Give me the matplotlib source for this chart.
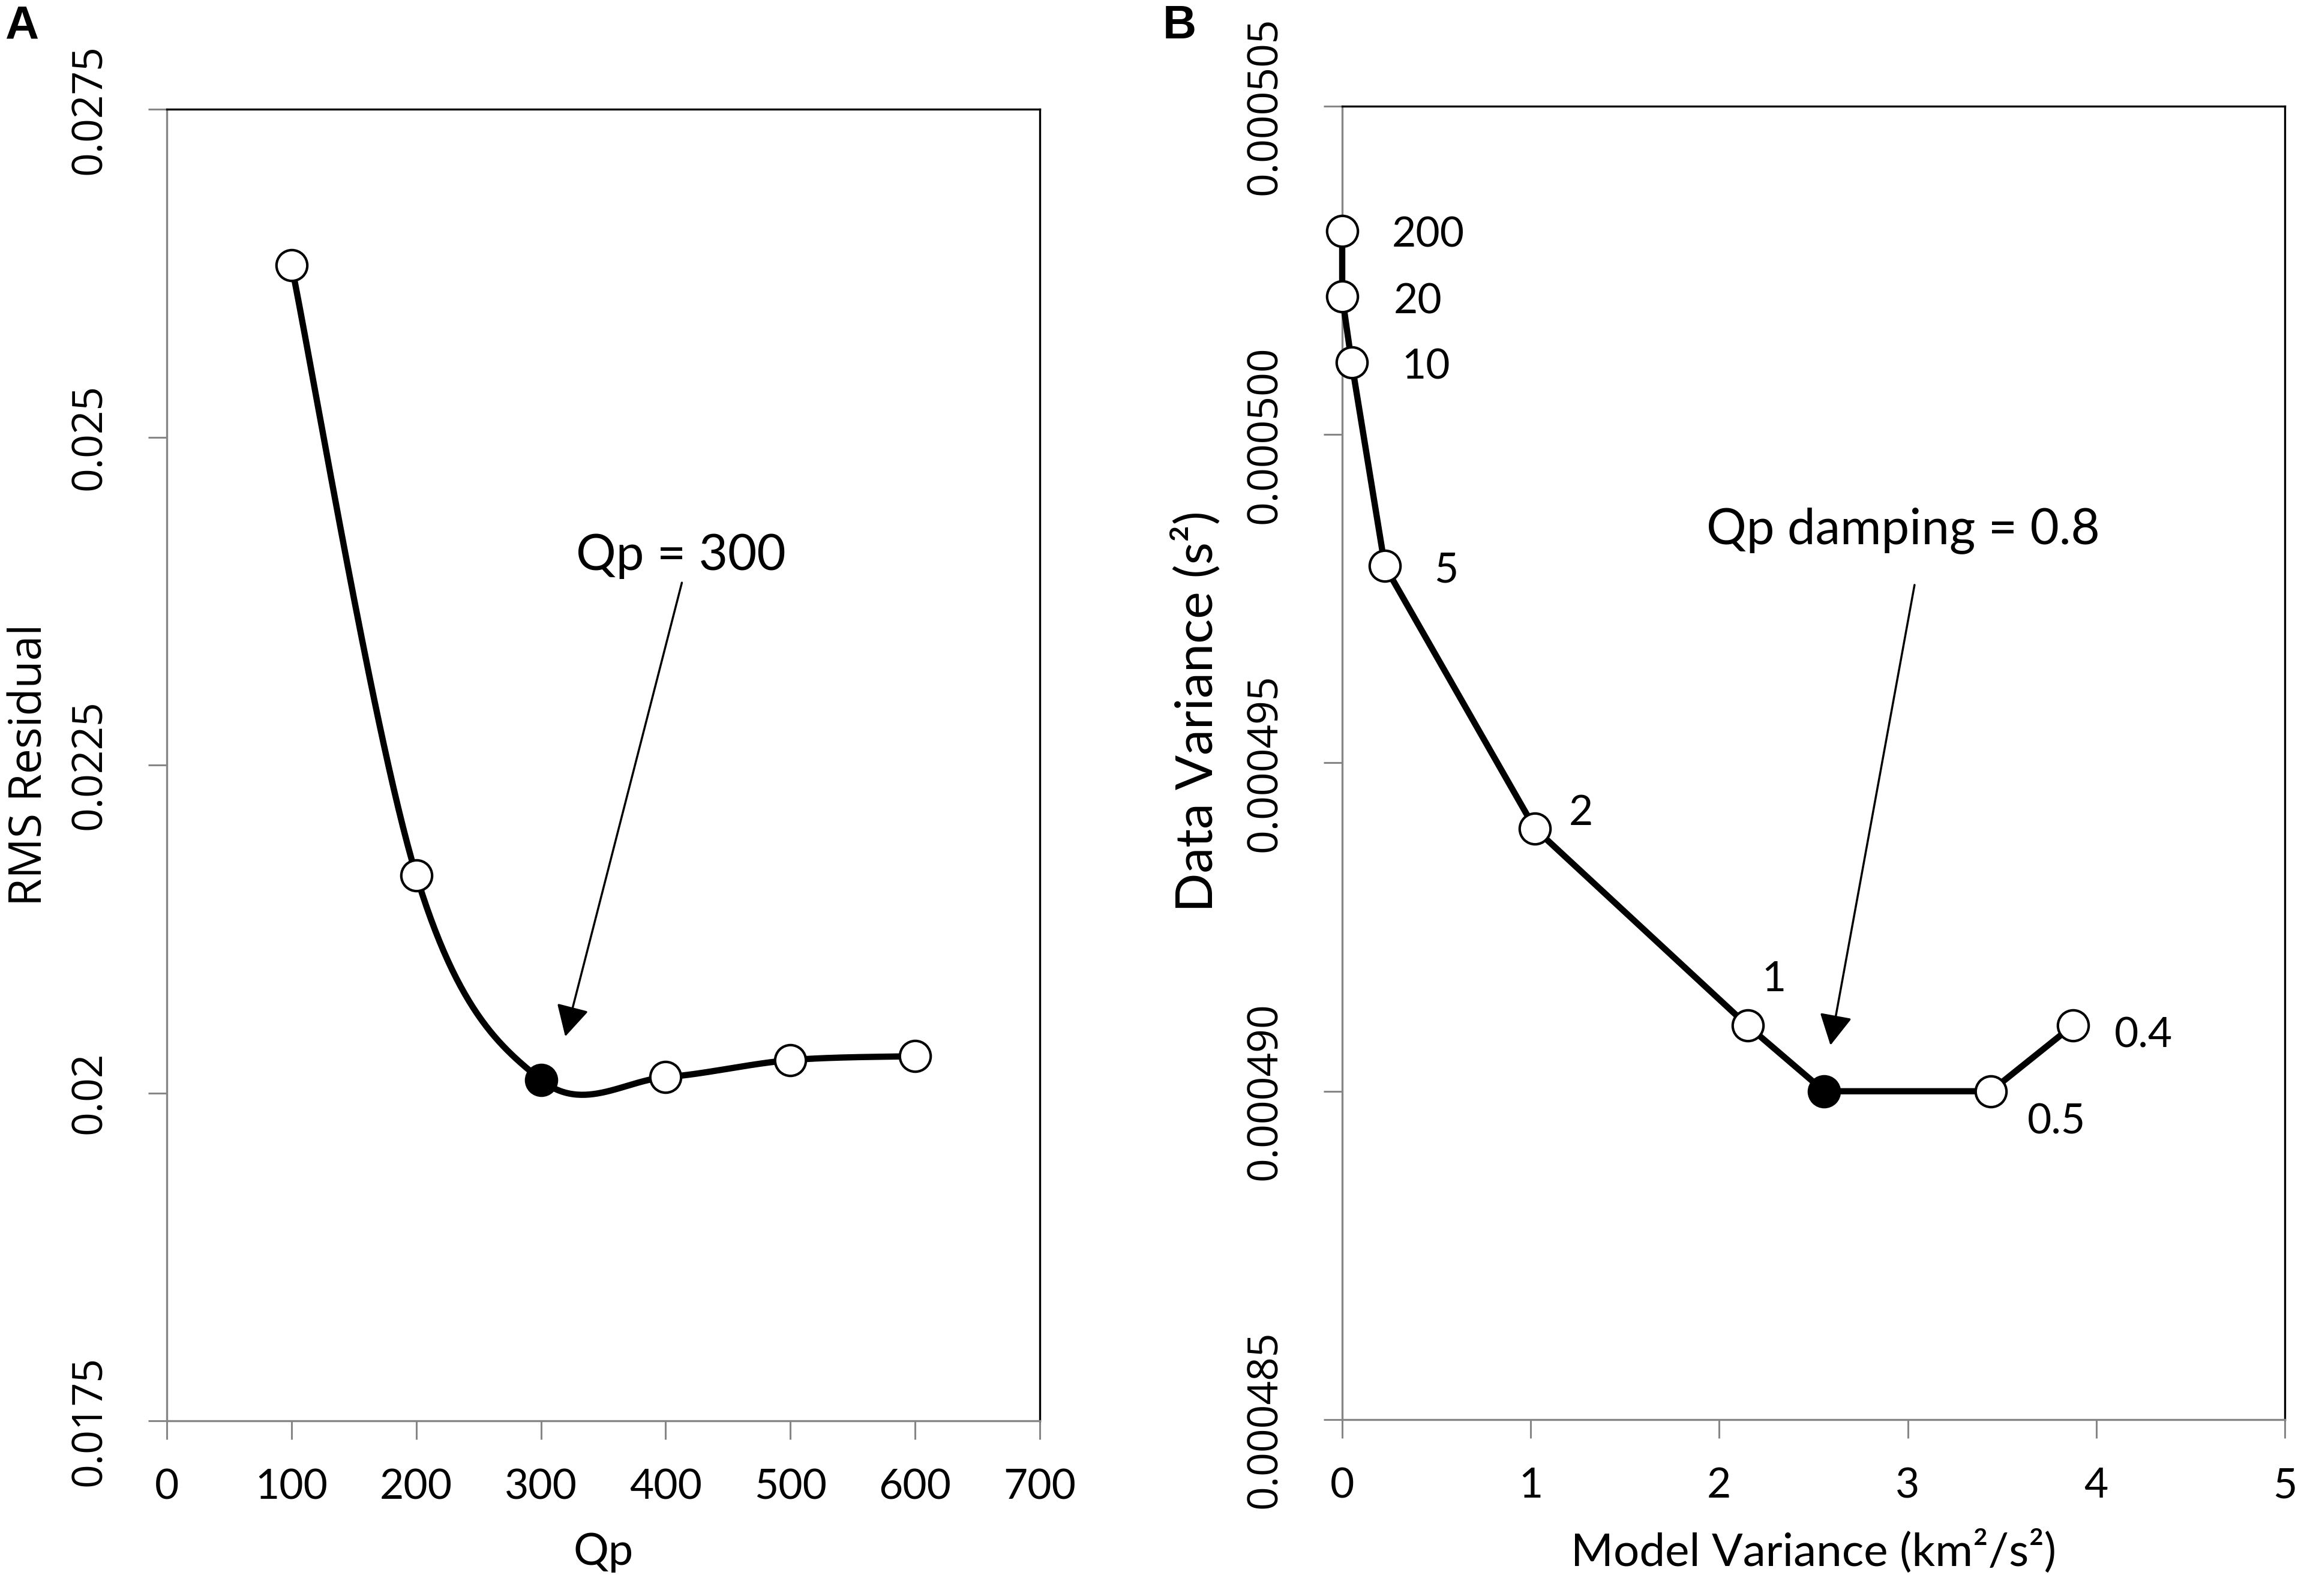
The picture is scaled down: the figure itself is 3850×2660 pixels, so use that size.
import numpy as np
import matplotlib
matplotlib.use("Agg")
import matplotlib.pyplot as plt

# ---------------- data ----------------
# Panel A
qp_values = [100, 200, 300, 400, 500, 600]
rms_residual = [0.02631, 0.02166, 0.02010, 0.02012, 0.02025, 0.02028]
best_qp_index = 2
a_xticks = [0, 100, 200, 300, 400, 500, 600, 700]
a_yticks = [0.0175, 0.02, 0.0225, 0.025, 0.0275]
a_yticklabels = ["0.0175", "0.02", "0.0225", "0.025", "0.0275"]
a_annot_text = "Qp = 300"
a_annot_text_xy = (412, 0.02409)
a_arrow_tail = (413, 0.02389)
a_arrow_tip = (319.5, 0.02043)

# Panel B
model_variance = [0.0, 0.0, 0.05, 0.226, 1.022, 2.15, 2.557, 3.44, 3.875]
data_variance = [0.0005031, 0.0005021, 0.0005011, 0.000498, 0.000494,
                 0.000491, 0.00049, 0.00049, 0.000491]
damping_labels = ["200", "20", "10", "5", "2", "1", "", "0.5", "0.4"]
best_damp_index = 6
b_xticks = [0, 1, 2, 3, 4, 5]
b_yticks = [0.000485, 0.00049, 0.000495, 0.0005, 0.000505]
b_yticklabels = ["0.000485", "0.000490", "0.000495", "0.000500", "0.000505"]
b_annot_text = "Qp damping = 0.8"
b_annot_text_xy = (2.976, 0.00049854)
b_arrow_tail = (3.036, 0.00049771)
b_arrow_tip = (2.59, 0.0004907)

# label offsets (points) for the damping labels
label_offsets = [(103, -5), (91, -6), (89, -6), (74, -6), (55, 18),
                 (32, 55), (0, 0), (79, -37), (85, -12)]

# ---------------- style ----------------
GRAY = "#868686"
TICK_FONT = "Lato"
AXIS_FONT = "Open Sans"
plt.rcParams["font.family"] = ["Lato", "DejaVu Sans"]

fig = plt.figure(figsize=(38.5, 26.6), dpi=100)
axA = fig.add_axes([0.07221, 0.10977, 0.37792, 0.82180])
axB = fig.add_axes([0.58104, 0.11053, 0.40805, 0.82293])


def excel_smooth(xs, ys, n=60):
    pts = np.column_stack([xs, ys]).astype(float)
    m = len(pts)
    out = [pts[0]]
    t = np.linspace(0, 1, n)[1:, None]
    for i in range(m - 1):
        p0 = pts[i - 1] if i > 0 else pts[i]
        p1 = pts[i]
        p2 = pts[i + 1]
        p3 = pts[i + 2] if i + 2 < m else pts[i + 1]
        c1 = p1 + (p2 - p0) / 6.0
        c2 = p2 - (p3 - p1) / 6.0
        seg = ((1 - t) ** 3) * p1 + 3 * ((1 - t) ** 2) * t * c1 + \
            3 * (1 - t) * t ** 2 * c2 + t ** 3 * p2
        out.extend(seg)
    out = np.array(out)
    return out[:, 0], out[:, 1]


def style_axes(ax, xticks, yticks, yticklabels, xlim, ylim):
    ax.set_xlim(*xlim)
    ax.set_ylim(*ylim)
    ax.set_xticks(xticks)
    ax.set_xticklabels([str(v) for v in xticks], fontfamily=TICK_FONT, fontsize=50)
    ax.set_yticks(yticks)
    ax.set_yticklabels(yticklabels, fontfamily=AXIS_FONT, fontsize=50,
                       rotation=90, va="center", ha="right")
    for side in ["top", "right"]:
        ax.spines[side].set_color("black")
        ax.spines[side].set_linewidth(2.4)
    for side in ["left", "bottom"]:
        ax.spines[side].set_color(GRAY)
        ax.spines[side].set_linewidth(2.4)
    ax.tick_params(axis="x", direction="out", length=22, width=2.2,
                   color=GRAY, pad=35)
    ax.tick_params(axis="y", direction="out", length=22, width=2.2,
                   color=GRAY, pad=45)


# ---------------- Panel A ----------------
sx, sy = excel_smooth(qp_values, rms_residual)
axA.plot(sx, sy, color="black", lw=7.5, zorder=3, solid_capstyle="round")
for i, (x, y) in enumerate(zip(qp_values, rms_residual)):
    fc = "black" if i == best_qp_index else "white"
    axA.plot([x], [y], marker="o", ms=37, mfc=fc, mec="black", mew=3,
             zorder=5, clip_on=False)
style_axes(axA, a_xticks, a_yticks, a_yticklabels, (0, 700), (0.0175, 0.0275))
axA.annotate("", xy=a_arrow_tip, xytext=a_arrow_tail,
             arrowprops=dict(arrowstyle="-|>,head_length=1.6,head_width=0.85",
                             mutation_scale=20, lw=2.5, color="black",
                             shrinkA=0, shrinkB=0), zorder=6)
axA.text(a_annot_text_xy[0], a_annot_text_xy[1], a_annot_text, fontfamily=TICK_FONT,
         fontsize=60, ha="center", va="center")
axA.set_xlabel("Qp", fontfamily=TICK_FONT, fontsize=53, va="center")
axA.xaxis.set_label_coords(0.5, -0.1006)
axA.set_ylabel("RMS Residual", fontfamily=AXIS_FONT, fontsize=54, va="center")
axA.yaxis.set_label_coords(-0.157, 0.5)

# ---------------- Panel B ----------------
axB.plot(model_variance, data_variance, color="black", lw=7.5, zorder=3,
         solid_joinstyle="round", clip_on=False)
for i, (x, y) in enumerate(zip(model_variance, data_variance)):
    fc = "black" if i == best_damp_index else "white"
    axB.plot([x], [y], marker="o", ms=37, mfc=fc, mec="black", mew=3,
             zorder=5, clip_on=False)
    if damping_labels[i]:
        axB.annotate(damping_labels[i], xy=(x, y), xytext=label_offsets[i],
                     textcoords="offset points", ha="center", va="center",
                     fontfamily=TICK_FONT, fontsize=50)
style_axes(axB, b_xticks, b_yticks, b_yticklabels, (0, 5), (0.000485, 0.000505))
axB.annotate("", xy=b_arrow_tip, xytext=b_arrow_tail,
             arrowprops=dict(arrowstyle="-|>,head_length=1.6,head_width=0.85",
                             mutation_scale=20, lw=2.5, color="black",
                             shrinkA=0, shrinkB=0), zorder=6)
axB.text(b_annot_text_xy[0], b_annot_text_xy[1], b_annot_text, fontfamily=TICK_FONT,
         fontsize=60, ha="center", va="center")
axB.set_xlabel("Model Variance (km²/s²)", fontfamily=TICK_FONT, fontsize=55, va="center")
axB.xaxis.set_label_coords(0.5, -0.1006)
axB.set_ylabel("Data Variance (s²)", fontfamily=TICK_FONT, fontsize=62, va="center")
axB.yaxis.set_label_coords(-0.155, 0.539)

# panel letters
fig.text(36 / 3850, 1 - 44 / 2660, "A", fontfamily="Liberation Sans",
         fontweight="bold", fontsize=56, ha="center", va="center")
fig.text(1966 / 3850, 1 - 44 / 2660, "B", fontfamily="Liberation Sans",
         fontweight="bold", fontsize=56, ha="center", va="center")

fig.savefig("out.png", dpi=100, facecolor="white")
